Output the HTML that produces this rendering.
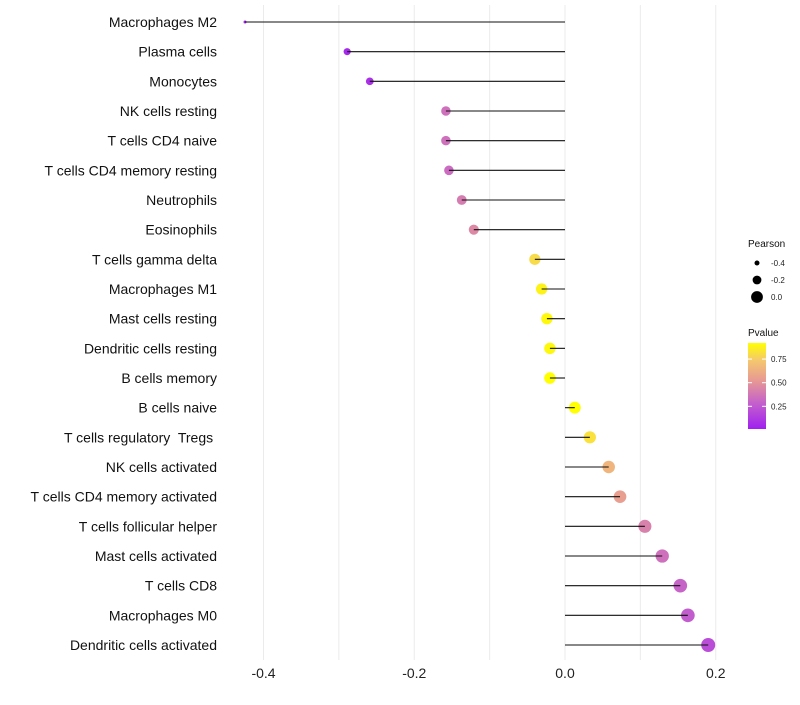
<!DOCTYPE html>
<html><head><meta charset="utf-8"><style>
body{margin:0;background:#fff;font-family:"Liberation Sans",sans-serif;}
svg text{font-family:"Liberation Sans",sans-serif;white-space:pre;}
</style></head><body>
<svg id="chart" width="800" height="700"></svg>
<script>
const categories=["Macrophages M2","Plasma cells","Monocytes","NK cells resting","T cells CD4 naive","T cells CD4 memory resting","Neutrophils","Eosinophils","T cells gamma delta","Macrophages M1","Mast cells resting","Dendritic cells resting","B cells memory","B cells naive","T cells regulatory  Tregs ","NK cells activated","T cells CD4 memory activated","T cells follicular helper","Mast cells activated","T cells CD8","Macrophages M0","Dendritic cells activated"];
const pearson=[-0.4245,-0.289,-0.259,-0.158,-0.158,-0.154,-0.137,-0.121,-0.040,-0.031,-0.024,-0.020,-0.020,0.013,0.033,0.058,0.073,0.106,0.129,0.153,0.163,0.190];
const pvalue=[0.02,0.05,0.08,0.35,0.35,0.33,0.40,0.45,0.80,0.88,0.90,0.90,0.92,0.92,0.82,0.65,0.55,0.42,0.35,0.30,0.27,0.20];
const xTicks=[-0.4,-0.2,0.0,0.2];
const xTickLabels=["-0.4","-0.2","0.0","0.2"];
const sizeLegend=[-0.4,-0.2,0.0];
const colorTicks=[0.25,0.50,0.75];

const NS="http://www.w3.org/2000/svg";
const svg=document.getElementById('chart');
function mk(t,a,p){const e=document.createElementNS(NS,t);for(const k in a)e.setAttribute(k,a[k]);(p||svg).appendChild(e);return e;}
const x=v=>565+v*753.75;
const y=i=>22+i*29.667;
const sMin=Math.min(...pearson),sMax=Math.max(...pearson);
const rad=v=>{const t=Math.max(0,(v-sMin)/(sMax-sMin));return Math.sqrt(2.25+(49-2.25)*t);};
const pMin=0.01,pMax=0.92;
const stops=[[0,[160,32,240]],[0.3,[196,96,204]],[0.55,[230,150,150]],[0.8,[245,200,110]],[1,[255,255,0]]];
function col(p){let t=(p-pMin)/(pMax-pMin);t=Math.max(0,Math.min(1,t));for(let i=1;i<stops.length;i++){if(t<=stops[i][0]){const a=stops[i-1],b=stops[i];const f=(t-a[0])/(b[0]-a[0]);const c=a[1].map((v,k)=>Math.round(v+(b[1][k]-v)*f));return `rgb(${c})`;}}return 'rgb(255,255,0)';}

for(let v=-0.4;v<=0.21;v+=0.1){const g=mk('line',{x1:x(v),x2:x(v),y1:5,y2:660,stroke:'#ebebeb','stroke-width':1});

}
xTicks.forEach((v,i)=>{const t=mk('text',{x:x(v),y:678,'text-anchor':'middle','font-size':14,fill:'#222'});t.textContent=xTickLabels[i];

});

categories.forEach((c,i)=>{
const t=mk('text',{x:217,y:y(i)+5,'text-anchor':'end','font-size':14,fill:'#111'});t.textContent=c;


const pt=mk('circle',{cx:x(pearson[i]),cy:y(i),r:rad(pearson[i]),fill:col(pvalue[i])});


const l=mk('line',{x1:x(0),x2:x(pearson[i]),y1:y(i),y2:y(i),stroke:'#111','stroke-width':1.1});


});

const lt=mk('text',{x:748,y:247,'font-size':10,fill:'#111'});lt.textContent='Pearson';


sizeLegend.forEach((v,i)=>{const cy=263+i*17;
const c=mk('circle',{cx:757,cy:cy,r:[2.5,4.4,5.9][i],fill:'#000'});


const t=mk('text',{x:771,y:cy+3,'font-size':8,fill:'#222'});t.textContent=v.toFixed(1);

});

const ct=mk('text',{x:748,y:336,'font-size':10,fill:'#111'});ct.textContent='Pvalue';


const defs=mk('defs',{});const gr=mk('linearGradient',{id:'pg',x1:0,y1:1,x2:0,y2:0},defs);
stops.forEach(s=>mk('stop',{offset:s[0],'stop-color':`rgb(${s[1]})`},gr));
const bTop=343,bBot=429;
const bar=mk('rect',{x:748,y:bTop,width:18,height:bBot-bTop,fill:'url(#pg)'});


const py=p=>bBot-(p-pMin)/(pMax-pMin)*(bBot-bTop);
colorTicks.forEach(p=>{mk('line',{x1:748,x2:752,y1:py(p),y2:py(p),stroke:'#fff'});mk('line',{x1:762,x2:766,y1:py(p),y2:py(p),stroke:'#fff'});
const t=mk('text',{x:771,y:py(p)+3,'font-size':8,fill:'#222'});t.textContent=p.toFixed(2);

});
</script>
</body></html>
